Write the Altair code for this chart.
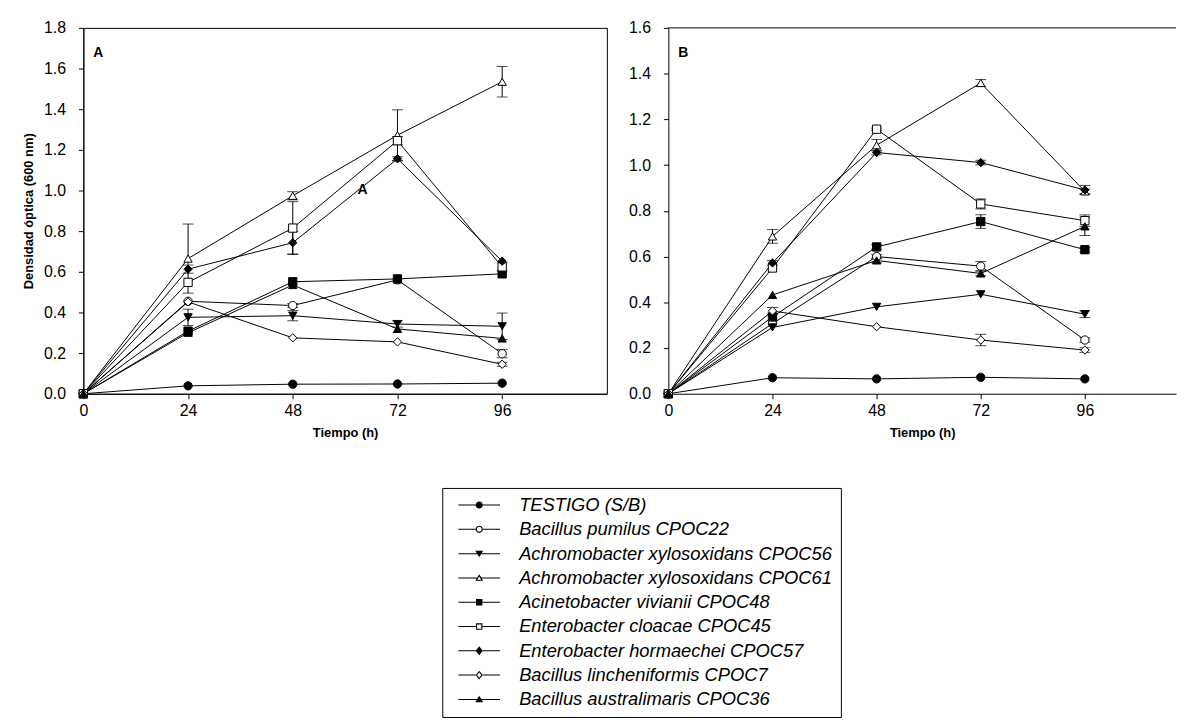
import altair as alt
import pandas as pd

FONT = "Liberation Sans"

tiempo = [0, 24, 48, 72, 96]
series = [
    "TESTIGO (S/B)",
    "Bacillus pumilus CPOC22",
    "Achromobacter xylosoxidans CPOC56",
    "Achromobacter xylosoxidans CPOC61",
    "Acinetobacter vivianii CPOC48",
    "Enterobacter cloacae CPOC45",
    "Enterobacter hormaechei CPOC57",
    "Bacillus lincheniformis CPOC7",
    "Bacillus australimaris CPOC36",
]
simbolos = ["circle", "circle", "triangle-down", "triangle-up", "square",
            "square", "diamond", "diamond", "triangle-up"]
rellenos = ["black", "white", "black", "white", "black",
            "white", "black", "white", "black"]

# ---- Panel A (values, then standard errors) ----
a_testigo = [0, 0.039, 0.047, 0.048, 0.052]
a_cpoc22 = [0, 0.455, 0.434, 0.560, 0.197]
a_cpoc56 = [0, 0.376, 0.384, 0.343, 0.332]
a_cpoc61 = [0, 0.665, 0.974, 1.272, 1.535]
a_cpoc48 = [0, 0.308, 0.551, 0.565, 0.590]
a_cpoc45 = [0, 0.548, 0.815, 1.245, 0.624]
a_cpoc57 = [0, 0.613, 0.743, 1.156, 0.652]
a_cpoc7 = [0, 0.452, 0.275, 0.255, 0.145]
a_cpoc36 = [0, 0.300, 0.535, 0.319, 0.272]

ea_testigo = [0, 0, 0, 0, 0]
ea_cpoc22 = [0, 0, 0.01, 0, 0.02]
ea_cpoc56 = [0, 0.04, 0.025, 0.015, 0.065]
ea_cpoc61 = [0, 0.17, 0.02, 0.125, 0.075]
ea_cpoc48 = [0, 0, 0, 0, 0]
ea_cpoc45 = [0, 0, 0.13, 0.02, 0.02]
ea_cpoc57 = [0, 0.02, 0.055, 0.01, 0]
ea_cpoc7 = [0, 0, 0, 0, 0.01]
ea_cpoc36 = [0, 0, 0, 0, 0]

# ---- Panel B ----
b_testigo = [0, 0.070, 0.065, 0.072, 0.065]
b_cpoc22 = [0, 0.307, 0.600, 0.558, 0.235]
b_cpoc56 = [0, 0.290, 0.380, 0.435, 0.348]
b_cpoc61 = [0, 0.688, 1.087, 1.359, 0.885]
b_cpoc48 = [0, 0.336, 0.642, 0.753, 0.630]
b_cpoc45 = [0, 0.550, 1.157, 0.830, 0.757]
b_cpoc57 = [0, 0.572, 1.055, 1.011, 0.891]
b_cpoc7 = [0, 0.362, 0.293, 0.235, 0.191]
b_cpoc36 = [0, 0.432, 0.583, 0.526, 0.732]

eb_testigo = [0, 0, 0, 0, 0]
eb_cpoc22 = [0, 0, 0.01, 0.02, 0.01]
eb_cpoc56 = [0, 0, 0, 0, 0.015]
eb_cpoc61 = [0, 0.03, 0.025, 0.015, 0.01]
eb_cpoc48 = [0, 0, 0.01, 0.03, 0.01]
eb_cpoc45 = [0, 0, 0.005, 0.022, 0.025]
eb_cpoc57 = [0, 0.01, 0.01, 0.01, 0.02]
eb_cpoc7 = [0, 0.015, 0, 0.025, 0.01]
eb_cpoc36 = [0, 0, 0.01, 0.01, 0.04]

A_vals = [a_testigo, a_cpoc22, a_cpoc56, a_cpoc61, a_cpoc48, a_cpoc45, a_cpoc57, a_cpoc7, a_cpoc36]
A_errs = [ea_testigo, ea_cpoc22, ea_cpoc56, ea_cpoc61, ea_cpoc48, ea_cpoc45, ea_cpoc57, ea_cpoc7, ea_cpoc36]
B_vals = [b_testigo, b_cpoc22, b_cpoc56, b_cpoc61, b_cpoc48, b_cpoc45, b_cpoc57, b_cpoc7, b_cpoc36]
B_errs = [eb_testigo, eb_cpoc22, eb_cpoc56, eb_cpoc61, eb_cpoc48, eb_cpoc45, eb_cpoc57, eb_cpoc7, eb_cpoc36]

yticks_A = [0.0, 0.2, 0.4, 0.6, 0.8, 1.0, 1.2, 1.4, 1.6, 1.8]
yticks_B = [0.0, 0.2, 0.4, 0.6, 0.8, 1.0, 1.2, 1.4, 1.6]

panel_letters = ["A", "B"]
nota_text = ["A"]
nota_t = [64]
nota_v = [0.985]

rows = []
for panel, vals, errs in (("A", A_vals, A_errs), ("B", B_vals, B_errs)):
    for k, (s, vs, es) in enumerate(zip(series, vals, errs)):
        for t, v, e in zip(tiempo, vs, es):
            rows.append(dict(panel=panel, serie=s, orden=k, t=t, v=v, e=e,
                             lo=v - e, hi=v + e))
df = pd.DataFrame(rows)

# ---- legend glyphs: "line + marker" drawn as filled outlines (unit = 5 px) ----
U = 5.0
L0, L1, MC, R = -1.0, 41.0, 20.0, 3.6


def _p(x, y):
    return f"{x / U:.3f},{y / U:.3f}"


def _poly(pts):
    return "M" + "L".join(_p(x, y) for x, y in pts) + "Z"


def _circle(cx, r, sweep):
    a = f"{r / U:.3f},{r / U:.3f}"
    return (f"M{_p(cx + r, 0)}A{a} 0 1,{sweep} {_p(cx - r, 0)}"
            f"A{a} 0 1,{sweep} {_p(cx + r, 0)}Z")


def _inset(pts, c, k):
    cx, cy = c
    return [(cx + k * (x - cx), cy + k * (y - cy)) for x, y in reversed(pts)]


def sym_path(kind, hollow):
    r = R
    if kind == "circle":
        hw = r
        m = _circle(MC, r, 1)
        if hollow:
            m += _circle(MC, r - 1.1, 0)
    else:
        if kind == "square":
            s = r * 0.9
            pts = [(MC - s, -s), (MC + s, -s), (MC + s, s), (MC - s, s)]
            c, k, hw = (MC, 0), 1 - 1.1 / s, s
        elif kind == "diamond":
            pts = [(MC, -r * 1.25), (MC + r, 0), (MC, r * 1.25), (MC - r, 0)]
            c, k, hw = (MC, 0), 1 - 1.1 / (0.781 * r), r
        elif kind == "triangle-up":
            pts = [(MC, -r), (MC + r * 1.1, r * 0.8), (MC - r * 1.1, r * 0.8)]
            c, k, hw = (MC, 0.183 * r), 1 - 1.1 / (0.617 * r), r * 0.6
        else:
            pts = [(MC, r), (MC - r * 1.1, -r * 0.8), (MC + r * 1.1, -r * 0.8)]
            c, k, hw = (MC, -0.183 * r), 1 - 1.1 / (0.617 * r), r * 0.6
        m = _poly(pts)
        if hollow:
            m += _poly(_inset(pts, c, k))
    h = 0.5
    line = _poly([(L0, -h), (MC - hw, -h), (MC - hw, h), (L0, h)])
    line += _poly([(MC + hw, -h), (L1, -h), (L1, h), (MC + hw, h)])
    return line + m


leg_paths = [sym_path(k, f == "white") for k, f in zip(simbolos, rellenos)]

LEG = alt.Legend(
    title=None, orient="none", legendX=362, legendY=464,
    symbolSize=100, symbolStrokeWidth=0, symbolFillColor="black",
    labelFont=FONT, labelFontStyle="italic", labelFontSize=18.5, labelColor="black",
    labelOffset=51, labelLimit=600, rowPadding=5.5, padding=8,
    strokeColor="black", fillColor="white", cornerRadius=0,
)


def panel(name, ymax, yticks, xmax, width, ytitle, framed, with_legend):
    d = df[df.panel == name]
    xs = alt.Scale(domain=[0, xmax], nice=False, zero=False)
    ys = alt.Scale(domain=[0, ymax], nice=False)
    xax = alt.Axis(values=tiempo, title="Tiempo (h)", labelFlush=False, format="d")
    yax = alt.Axis(values=yticks, format=".1f", title=ytitle)
    X = alt.X("t:Q", scale=xs, axis=xax)
    Y = alt.Y("v:Q", scale=ys, axis=yax)
    base = alt.Chart(d)
    err = base.transform_filter("datum.e > 0").mark_errorbar(
        ticks=True, size=11, thickness=1, color="black"
    ).encode(x=X, y=alt.Y("lo:Q", scale=ys, axis=yax), y2="hi:Q")
    line = base.mark_line(color="black", strokeWidth=1).encode(
        x=X, y=Y, detail="serie:N")
    pts = base.mark_point(filled=True, stroke="black", strokeWidth=1, size=70,
                          opacity=1).encode(
        x=X, y=Y,
        shape=alt.Shape("serie:N", scale=alt.Scale(domain=series, range=simbolos), legend=None),
        fill=alt.Fill("serie:N", scale=alt.Scale(domain=series, range=rellenos), legend=None),
        order=alt.Order("orden:Q"),
    )
    letter = alt.Chart(pd.DataFrame({"lab": [panel_letters[0 if name == "A" else 1]]})).mark_text(
        align="left", baseline="alphabetic", fontWeight="bold", fontSize=14, font=FONT, color="black"
    ).encode(x=alt.value(10), y=alt.value(29), text="lab:N")
    layers = [err, line, pts, letter]
    if name == "A":
        nota = alt.Chart(pd.DataFrame({"txt": nota_text, "t": nota_t, "v": nota_v})).mark_text(
            align="center", baseline="alphabetic", fontWeight="bold", fontSize=14, font=FONT, color="black"
        ).encode(x=alt.X("t:Q", scale=xs, axis=xax), y=alt.Y("v:Q", scale=ys, axis=yax), text="txt:N")
        layers.append(nota)
    else:
        top = alt.Chart(pd.DataFrame({"ytop": [ymax]})).mark_rule(color="black", strokeWidth=1).encode(
            y=alt.Y("ytop:Q", scale=ys, axis=yax))
        layers.append(top)
    if with_legend:
        leg = alt.Chart(pd.DataFrame({"leyenda": series})).transform_filter("false").mark_point(
            filled=True, color="black", strokeWidth=0, opacity=1
        ).encode(
            shape=alt.Shape("leyenda:N", scale=alt.Scale(domain=series, range=leg_paths), legend=LEG),
        )
        layers.append(leg)
    ch = alt.layer(*layers).resolve_scale(shape="independent", fill="independent").properties(
        width=width, height=369,
        view=alt.ViewBackground(stroke="black" if framed else "transparent", strokeWidth=1),
    )
    return ch


pA = panel("A", 1.8, yticks_A, 120, 528, "Densidad óptica (600 nm)", True, True)
pB = panel("B", 1.6, yticks_B, 117, 512, "", False, False)

chart = alt.hconcat(pA, pB, spacing=62, bounds="flush").resolve_scale(
    x="independent", y="independent", shape="independent", fill="independent"
).properties(
    padding={"left": 14, "top": 8, "right": 0, "bottom": 0}
).configure(
    font=FONT
).configure_axis(
    labelFont=FONT, labelFontSize=16, labelColor="black",
    titleFont=FONT, titleFontSize=13, titleFontWeight="bold", titleColor="black",
    domainColor="black", tickColor="black", tickSize=5, grid=False,
    labelPadding=4, titlePadding=8,
).configure_axisY(labelPadding=13)

chart.save("out.html", embed_options={"renderer": "svg", "actions": False})
